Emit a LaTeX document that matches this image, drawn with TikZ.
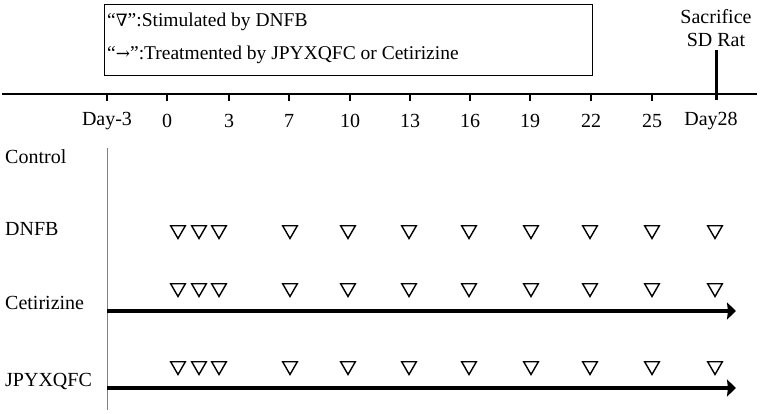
\documentclass[tikz,border=0pt]{standalone}
\usepackage{fontspec}
\setmainfont{Liberation Serif}
\newfontfamily\symfont{DejaVu Serif}
\usetikzlibrary{shapes.geometric,arrows.meta}
\newcommand{\symtxt}[1]{{\symfont\fontsize{17}{17}\selectfont #1}}
\begin{document}
\begin{tikzpicture}[x=1pt,y=-1pt,
  lbl/.style={font=\fontsize{20}{22}\selectfont, inner sep=0pt},
  leglbl/.style={font=\fontsize{19.5}{22}\selectfont, inner sep=0pt},
  tri/.style={regular polygon, regular polygon sides=3, shape border rotate=180, draw, line width=1.4pt, minimum size=17pt, inner sep=0pt},
  tickline/.style={line width=1.4pt},
  treat/.style={line width=4.5pt, -{Stealth[length=9pt,width=17pt,inset=1pt]}}]
\useasboundingbox (0,0) rectangle (761,413);
% legend box
\node[draw, line width=1.1pt, minimum width=488pt, minimum height=71pt, anchor=north west, inner sep=0pt] (legend) at (104,4) {};
\node[leglbl, anchor=west] (leg1) at (107,22) {“\symtxt{∇}”:Stimulated by DNFB};
\node[leglbl, anchor=west] (leg2) at (107,55) {“\symtxt{→}”:Treatmented by JPYXQFC or Cetirizine};
% sacrifice
\node[lbl] (sac) at (716,17) {Sacrifice};
\node[lbl] (rat) at (716,40) {SD Rat};
% axis
\coordinate (axL) at (2,94);
\coordinate (axR) at (757,94);
\draw[line width=1.4pt] (axL) -- (axR);
\foreach \x/\t [count=\i] in {107/Day-3,167/0,229/3,289/7,350/10,410/13,470/16,530/19,591/22,652/25}{
  \coordinate (tk\i) at (\x,94);
  \coordinate (tb\i) at (\x,101);
  \draw[tickline] (tk\i) -- (tb\i);
  \node[lbl] (day\i) at (\x,121) {\t};
}
\coordinate (d28top) at (716,50);
\coordinate (d28bot) at (716,100);
\draw[line width=3pt] (d28top) -- (d28bot);
\node[lbl] (day28) at (711,121) {Day28};
% vertical line
\coordinate (vtop) at (107,148);
\coordinate (vbot) at (107,410);
\draw[gray, line width=0.9pt] (vtop) -- (vbot);
% row labels
\node[lbl, anchor=west] (ctrl) at (5,157) {Control};
\node[lbl, anchor=west] (dnfb) at (5,229) {DNFB};
\node[lbl, anchor=west] (ceti) at (5,303) {Cetirizine};
\node[lbl, anchor=west] (jpyx) at (5,381) {JPYXQFC};
% triangles
\foreach \x [count=\i] in {178,199,219,290,348,409,469,531,590,652,715}{
  \node[tri] (ta\i) at (\x,230) {};
  \node[tri] (tb\i) at (\x,288) {};
  \node[tri] (tc\i) at (\x,366) {};
}
% treatment arrows
\coordinate (a1s) at (107,311);
\coordinate (a1e) at (736,311);
\coordinate (a2s) at (107,388);
\coordinate (a2e) at (736,388);
\draw[treat] (a1s) -- (a1e);
\draw[treat] (a2s) -- (a2e);
\end{tikzpicture}
\end{document}
